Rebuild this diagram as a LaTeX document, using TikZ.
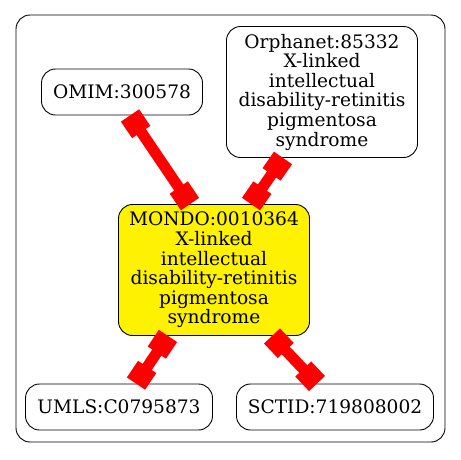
\documentclass[tikz,border=0pt]{standalone}
\usepackage{fontspec}
\setmainfont{DejaVu Serif}
\usetikzlibrary{arrows.meta}

\begin{document}
\begin{tikzpicture}[x=1pt,y=-1pt,
    term/.style={draw,line width=0.9pt,rounded corners=14pt,align=center,inner sep=1pt,
      font=\fontsize{18.6}{19.6}\selectfont},
    hub/.style={term,fill=yellow},
    xref/.style={red,line width=11pt,
      {Square[length=20pt,width=22pt]}-{Square[length=20pt,width=22pt]}}]
\useasboundingbox (0,0) rectangle (461,459);
\draw[line width=0.9pt,rounded corners=14pt] (16,15) rectangle (445,442);

\node[term,minimum width=161pt,minimum height=46pt] (omim) at (122,92) {OMIM:300578};
\node[term,minimum width=191pt,minimum height=131pt] (orpha) at (322,92)
    {Orphanet:85332\\X-linked\\intellectual\\disability-retinitis\\pigmentosa\\syndrome};
\node[hub,minimum width=191pt,minimum height=131pt] (mondo) at (214,270)
    {MONDO:0010364\\X-linked\\intellectual\\disability-retinitis\\pigmentosa\\syndrome};
\node[term,minimum width=187pt,minimum height=46pt] (umls) at (119,407) {UMLS:C0795873};
\node[term,minimum width=197pt,minimum height=46pt] (sctid) at (335,407) {SCTID:719808002};

\draw[xref] ([xshift=8pt]omim.south) -- ([xshift=-24pt]mondo.north);
\draw[xref] ([xshift=-39pt]orpha.south) -- ([xshift=37pt]mondo.north);
\draw[xref] ([xshift=-46pt]mondo.south) -- ([xshift=17pt]umls.north);
\draw[xref] ([xshift=58pt]mondo.south) -- ([xshift=-18pt]sctid.north);
\end{tikzpicture}
\end{document}
